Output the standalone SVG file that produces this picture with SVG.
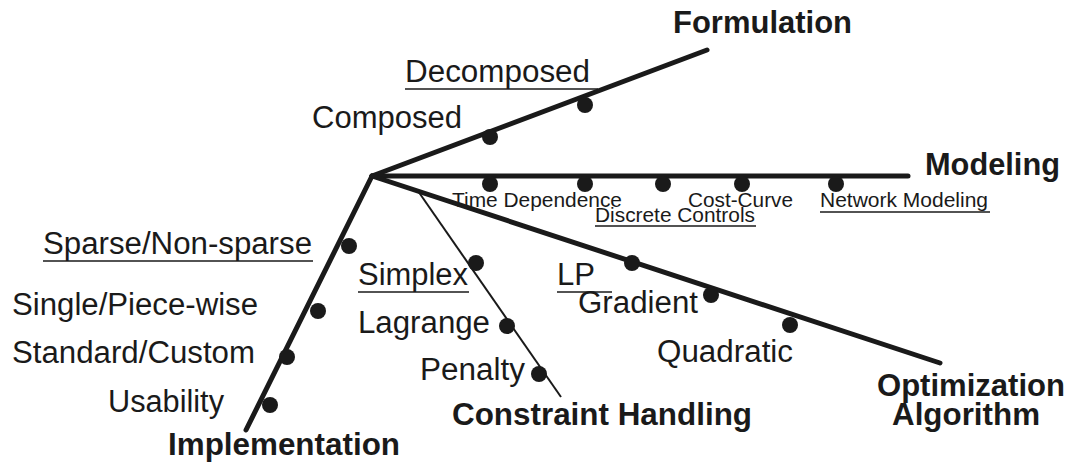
<svg xmlns="http://www.w3.org/2000/svg" width="1075" height="466" viewBox="0 0 1075 466">
<style>
.ax{stroke:#1a1a1a;stroke-width:5;stroke-linecap:round;fill:none}
.thin{stroke:#1a1a1a;stroke-width:2;fill:none}
.dot{fill:#1a1a1a}
text{font-family:"Liberation Sans",Arial,sans-serif;fill:#1a1a1a}
.t{font-size:31px}
.s{font-size:20px}
.b{font-size:31px;font-weight:bold}
.u{stroke:#1a1a1a;stroke-width:1.5}
</style>
<rect width="1075" height="466" fill="#ffffff"/>
<g id="connectors">
<line class="ax" x1="372" y1="176" x2="707" y2="50"/>
<line class="ax" x1="372" y1="176" x2="908" y2="176"/>
<line class="ax" x1="372" y1="176" x2="940" y2="363"/>
<line class="ax" x1="372" y1="176" x2="246" y2="430"/>
<line class="thin" x1="418" y1="191" x2="561" y2="397"/>
</g>
<g id="formulation">
<text class="b" x="673" y="33" textLength="179" lengthAdjust="spacingAndGlyphs">Formulation</text>
<circle class="dot" cx="490" cy="137" r="8"/>
<circle class="dot" cx="585" cy="105" r="8"/>
<text class="t" x="405" y="82" textLength="185" lengthAdjust="spacingAndGlyphs">Decomposed</text>
<line class="u" x1="405" y1="89" x2="598" y2="89"/>
<text class="t" x="312" y="128" textLength="150" lengthAdjust="spacingAndGlyphs">Composed</text>
</g>
<g id="modeling">
<text class="b" x="925" y="175" textLength="135" lengthAdjust="spacingAndGlyphs">Modeling</text>
<circle class="dot" cx="490" cy="184" r="8"/>
<circle class="dot" cx="585" cy="184" r="8"/>
<circle class="dot" cx="663" cy="184" r="8"/>
<circle class="dot" cx="742" cy="184" r="8"/>
<circle class="dot" cx="836" cy="184" r="8"/>
<text class="s" x="452" y="207" textLength="170" lengthAdjust="spacingAndGlyphs">Time Dependence</text>
<text class="s" x="688" y="207" textLength="105" lengthAdjust="spacingAndGlyphs">Cost-Curve</text>
<text class="s" x="820" y="207" textLength="168" lengthAdjust="spacingAndGlyphs">Network Modeling</text>
<line class="u" x1="820" y1="212" x2="990" y2="212"/>
<text class="s" x="595" y="222" textLength="160" lengthAdjust="spacingAndGlyphs">Discrete Controls</text>
<line class="u" x1="595" y1="226" x2="756" y2="226"/>
</g>
<g id="optimization">
<circle class="dot" cx="632" cy="263" r="8"/>
<circle class="dot" cx="711" cy="295" r="8"/>
<circle class="dot" cx="790" cy="325" r="8"/>
<text class="t" x="557" y="285" textLength="38" lengthAdjust="spacingAndGlyphs">LP</text>
<line class="u" x1="557" y1="292" x2="612" y2="292"/>
<text class="t" x="578" y="313" textLength="120" lengthAdjust="spacingAndGlyphs">Gradient</text>
<text class="t" x="657" y="362" textLength="136" lengthAdjust="spacingAndGlyphs">Quadratic</text>
<text class="b" x="877" y="396" textLength="188" lengthAdjust="spacingAndGlyphs">Optimization</text>
<text class="b" x="892" y="425" textLength="148" lengthAdjust="spacingAndGlyphs">Algorithm</text>
</g>
<g id="constraint">
<circle class="dot" cx="476" cy="263" r="8"/>
<circle class="dot" cx="507" cy="326" r="8"/>
<circle class="dot" cx="539" cy="374" r="8"/>
<text class="t" x="358" y="285" textLength="110" lengthAdjust="spacingAndGlyphs">Simplex</text>
<line class="u" x1="358" y1="292" x2="469" y2="292"/>
<text class="t" x="358" y="333" textLength="132" lengthAdjust="spacingAndGlyphs">Lagrange</text>
<text class="t" x="420" y="380" textLength="105" lengthAdjust="spacingAndGlyphs">Penalty</text>
<text class="b" x="452" y="425" textLength="300" lengthAdjust="spacingAndGlyphs">Constraint Handling</text>
</g>
<g id="implementation">
<circle class="dot" cx="349" cy="246" r="8"/>
<circle class="dot" cx="318" cy="311" r="8"/>
<circle class="dot" cx="287" cy="357" r="8"/>
<circle class="dot" cx="270" cy="405" r="8"/>
<text class="t" x="43" y="254" textLength="269" lengthAdjust="spacingAndGlyphs">Sparse/Non-sparse</text>
<line class="u" x1="43" y1="261" x2="313" y2="261"/>
<text class="t" x="12" y="315" textLength="246" lengthAdjust="spacingAndGlyphs">Single/Piece-wise</text>
<text class="t" x="12" y="363" textLength="243" lengthAdjust="spacingAndGlyphs">Standard/Custom</text>
<text class="t" x="108" y="412" textLength="116" lengthAdjust="spacingAndGlyphs">Usability</text>
<text class="b" x="168" y="455" textLength="232" lengthAdjust="spacingAndGlyphs">Implementation</text>
</g>
</svg>
